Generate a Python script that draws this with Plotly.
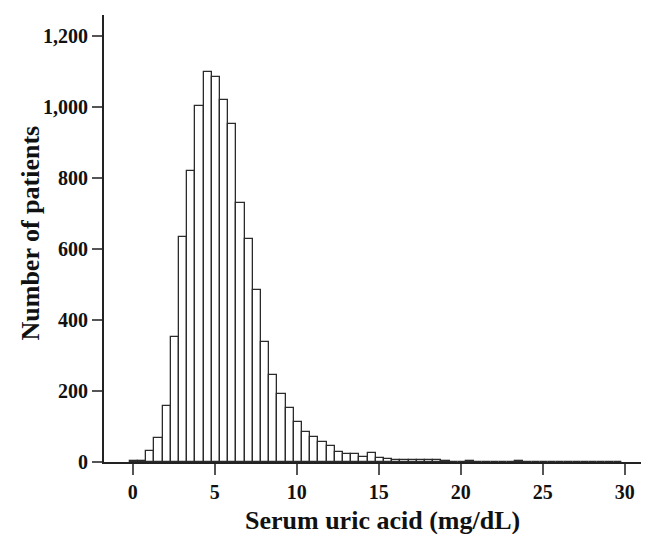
import plotly.graph_objects as go

# Histogram bins of serum uric acid (mg/dL), bin width 0.5
bin_centers = [0.07, 0.57, 1.07, 1.57, 2.07, 2.57, 3.07, 3.57, 4.07, 4.57,
               5.07, 5.57, 6.07, 6.57, 7.07, 7.57, 8.07, 8.57, 9.07, 9.57,
               10.07, 10.57, 11.07, 11.57, 12.07, 12.57, 13.07, 13.57, 14.07, 14.57,
               15.07, 15.57, 16.07, 16.57, 17.07, 17.57, 18.07, 18.57, 19.07, 19.57,
               20.07, 20.57, 21.07, 21.57, 22.07, 22.57, 23.07, 23.57, 24.07, 24.57,
               25.07, 25.57, 26.07, 26.57, 27.07, 27.57, 28.07, 28.57, 29.07, 29.57]
counts = [3, 4, 30, 68, 158, 352, 634, 819, 1002, 1099,
          1083, 1019, 950, 728, 629, 484, 338, 244, 192, 153,
          113, 85, 69, 55, 44, 27, 23, 23, 15, 24,
          10, 9, 5, 7, 5, 7, 5, 7, 2, 1,
          1, 3, 1, 1, 1, 0, 1, 3, 1, 1,
          0, 1, 0, 0, 1, 0, 0, 0, 0, 0]
bin_width = 0.5

x_ticks = [0, 5, 10, 15, 20, 25, 30]
y_ticks = [0, 200, 400, 600, 800, 1000, 1200]
y_tick_labels = ["0", "200", "400", "600", "800", "1,000", "1,200"]

x_title = "Serum uric acid (mg/dL)"
y_title = "Number of patients"

FONT = "Liberation Serif"

fig = go.Figure(go.Bar(
    x=bin_centers, y=counts, width=bin_width,
    marker=dict(color="white", line=dict(color="#2b2b2b", width=1.3)),
    hoverinfo="x+y",
))

# The page body has an 8 px margin, so the figure is sized to fit the window.
fig.update_layout(
    width=641, height=526,
    margin=dict(l=96, r=4, t=7, b=72),
    paper_bgcolor="white", plot_bgcolor="white",
    showlegend=False,
    bargap=0,
    font=dict(family=FONT, color="black"),
)

fig.update_xaxes(
    range=[-1.75, 31.24], automargin=False,
    tickvals=x_ticks,
    ticks="outside", ticklen=11, tickwidth=1.5, tickcolor="#555",
    showline=True, linecolor="#222", linewidth=2,
    showgrid=False, zeroline=False,
    tickfont=dict(family=FONT, size=20, color="#111", weight="bold"),
)
fig.update_yaxes(
    range=[0, 1258], automargin=False,
    tickvals=y_ticks, ticktext=y_tick_labels,
    ticks="outside", ticklen=10, tickwidth=1.5, tickcolor="#555",
    showline=True, linecolor="#222", linewidth=2,
    showgrid=False, zeroline=False,
    tickfont=dict(family=FONT, size=20, color="#111", weight="bold"),
)

fig.add_annotation(
    text="<b>" + x_title + "</b>", xref="paper", yref="paper",
    x=0.5, y=0, xanchor="center", yanchor="middle", showarrow=False,
    xshift=8, yshift=-58,
    font=dict(family=FONT, size=26, color="#111"),
)
fig.add_annotation(
    text="<b>" + y_title + "</b>", xref="paper", yref="paper",
    x=0, y=0.5, xanchor="center", yanchor="middle", showarrow=False,
    textangle=-90, xshift=-74, yshift=5,
    font=dict(family=FONT, size=26, color="#111"),
)

fig.write_html("out.html")
